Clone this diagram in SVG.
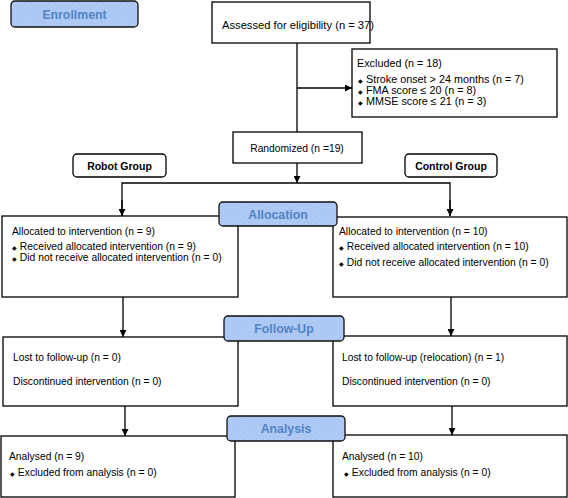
<svg xmlns="http://www.w3.org/2000/svg" width="568" height="498" viewBox="0 0 568 498">
<defs>
<style>
.box{fill:#fff;stroke:#000;stroke-width:1.3}
.grp{fill:#fff;stroke:#000;stroke-width:1.3}
.phase{fill:#a9c5f4;stroke:#111;stroke-width:1.3}
.t{font-family:"Liberation Sans",Arial,sans-serif;font-size:10.3px;fill:#000}
.b{font-family:"Liberation Sans",Arial,sans-serif;font-size:10.5px;font-weight:bold;fill:#000}
.pt{font-family:"Liberation Sans",Arial,sans-serif;font-size:12.3px;font-weight:bold;fill:#5284c4}
.bu{font-size:6px}
.ln{fill:none;stroke:#000;stroke-width:1.3}
</style>
<marker id="ah" viewBox="0 0 10 10" refX="10" refY="5" markerWidth="7" markerHeight="7" markerUnits="userSpaceOnUse" orient="auto">
<path d="M0,0 L10,5 L0,10 z" fill="#000"/>
</marker>
<pattern id="dots" width="6" height="6" patternUnits="userSpaceOnUse">
<rect width="6" height="6" fill="#aac7f6"/>
<circle cx="1" cy="1" r="0.5" fill="#d9e4f0"/>
<circle cx="4" cy="4" r="0.5" fill="#e8e0c0"/>
</pattern>
</defs>

<g id="connectors">
<path class="ln" d="M297,43 V132"/>
<path class="ln" d="M297,88 H352" marker-end="url(#ah)"/>
<path class="ln" d="M297,163 V183" marker-end="url(#ah)"/>
<path class="ln" d="M122,216 V183 H450 V216"/>
<path class="ln" d="M122,200 V216" marker-end="url(#ah)"/>
<path class="ln" d="M450,200 V216" marker-end="url(#ah)"/>
<path class="ln" d="M123,297 V337" marker-end="url(#ah)"/>
<path class="ln" d="M451,297 V336" marker-end="url(#ah)"/>
<path class="ln" d="M125,406 V436" marker-end="url(#ah)"/>
<path class="ln" d="M452,406 V435" marker-end="url(#ah)"/>
</g>

<g id="assessed">
<rect class="box" x="212" y="2" width="158" height="41"/>
<text class="t" x="222" y="29" style="font-size:11.2px">Assessed for eligibility (n = 37)</text>
</g>

<g id="excluded">
<rect class="box" x="352" y="49" width="205" height="68"/>
<text class="t" x="357" y="67" style="font-size:10.8px">Excluded  (n = 18)</text>
<text class="t" x="358" y="83" style="font-size:10.8px"><tspan class="bu">◆</tspan>  Stroke onset &gt; 24 months (n = 7)</text>
<text class="t" x="358" y="94" style="font-size:10.8px"><tspan class="bu">◆</tspan>  FMA score ≤ 20 (n = 8)</text>
<text class="t" x="358" y="105" style="font-size:10.8px"><tspan class="bu">◆</tspan>  MMSE score ≤ 21 (n = 3)</text>
</g>

<g id="randomized">
<rect class="box" x="233" y="132" width="129" height="31"/>
<text class="t" x="297" y="152" text-anchor="middle">Randomized (n =19)</text>
</g>

<g id="robot-group">
<rect class="grp" x="73" y="154" width="93" height="23" rx="4"/>
<text class="b" x="119.5" y="169.5" text-anchor="middle">Robot Group</text>
</g>

<g id="control-group">
<rect class="grp" x="405" y="154" width="92" height="23" rx="4"/>
<text class="b" x="451" y="169.5" text-anchor="middle">Control Group</text>
</g>

<g id="alloc-left">
<rect class="box" x="2" y="216" width="236" height="81"/>
<text class="t" x="12" y="235">Allocated to intervention (n = 9)</text>
<text class="t" x="12" y="250"><tspan class="bu">◆</tspan> Received allocated intervention (n = 9)</text>
<text class="t" x="12" y="261"><tspan class="bu">◆</tspan> Did not receive allocated intervention (n = 0)</text>
</g>

<g id="alloc-right">
<rect class="box" x="333" y="217" width="234" height="80"/>
<text class="t" x="339" y="235">Allocated to intervention (n = 10)</text>
<text class="t" x="339" y="250"><tspan class="bu">◆</tspan> Received allocated intervention (n = 10)</text>
<text class="t" x="339" y="266"><tspan class="bu">◆</tspan> Did not receive allocated intervention (n = 0)</text>
</g>

<g id="follow-left">
<rect class="box" x="3" y="337" width="235" height="69"/>
<text class="t" x="13" y="361">Lost to follow-up (n = 0)</text>
<text class="t" x="13" y="385">Discontinued intervention (n = 0)</text>
</g>

<g id="follow-right">
<rect class="box" x="333" y="336" width="234" height="70"/>
<text class="t" x="342" y="361">Lost to follow-up (relocation) (n = 1)</text>
<text class="t" x="342" y="385">Discontinued intervention (n = 0)</text>
</g>

<g id="analysis-left">
<rect class="box" x="1" y="436" width="234" height="61"/>
<text class="t" x="9" y="460">Analysed  (n = 9)</text>
<text class="t" x="10" y="476"><tspan class="bu">◆</tspan> Excluded from analysis (n = 0)</text>
</g>

<g id="analysis-right">
<rect class="box" x="333" y="435" width="234" height="62"/>
<text class="t" x="342" y="460">Analysed  (n = 10)</text>
<text class="t" x="344" y="476"><tspan class="bu">◆</tspan> Excluded from analysis (n = 0)</text>
</g>

<g id="enrollment">
<rect class="phase" x="11" y="1" width="127" height="26" rx="4" style="fill:url(#dots)"/>
<text class="pt" x="74.5" y="18.5" text-anchor="middle">Enrollment</text>
</g>

<g id="allocation">
<rect class="phase" x="219" y="202" width="118" height="24" rx="4" style="fill:url(#dots)"/>
<text class="pt" x="278" y="218.5" text-anchor="middle">Allocation</text>
</g>

<g id="follow-up">
<rect class="phase" x="224" y="316" width="120" height="25" rx="4" style="fill:url(#dots)"/>
<text class="pt" x="284" y="333" text-anchor="middle">Follow-Up</text>
</g>

<g id="analysis">
<rect class="phase" x="227" y="416" width="118" height="25" rx="4" style="fill:url(#dots)"/>
<text class="pt" x="286" y="433" text-anchor="middle">Analysis</text>
</g>
</svg>
